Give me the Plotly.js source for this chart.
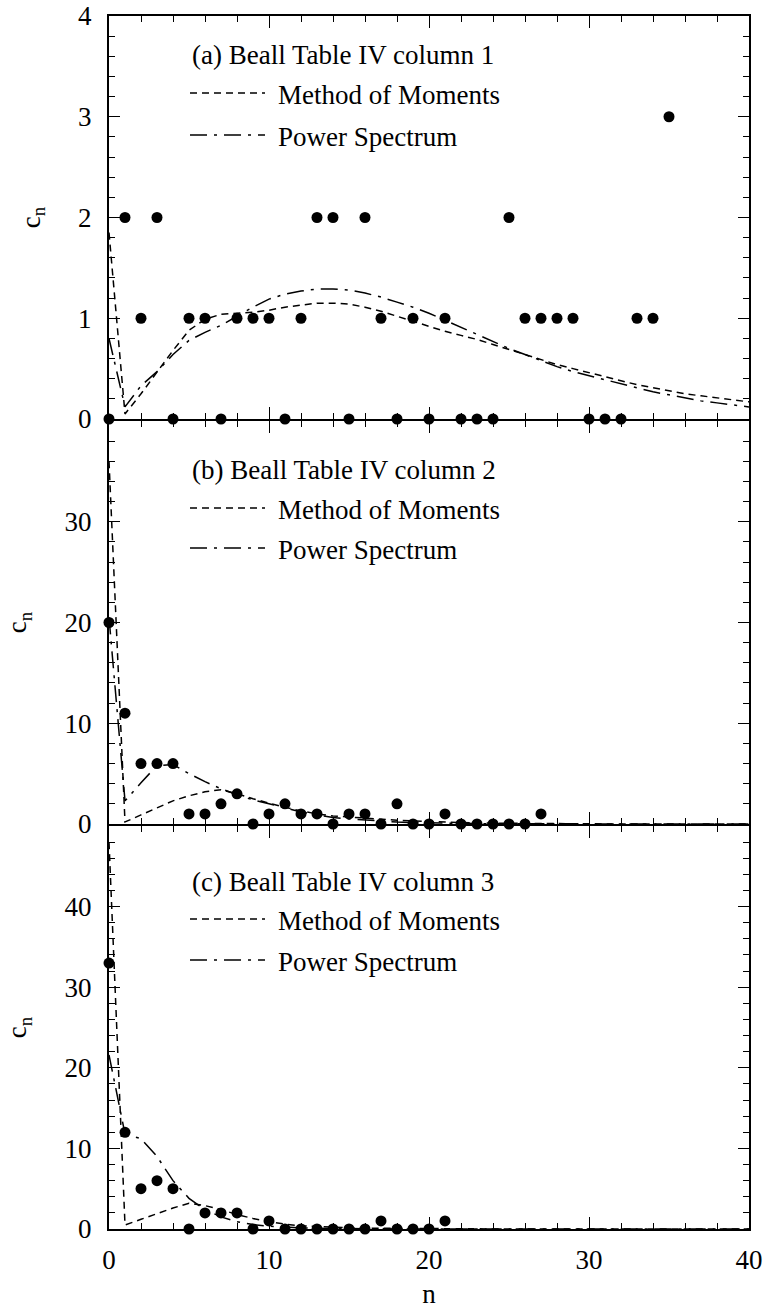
<!DOCTYPE html>
<html>
<head>
<meta charset="utf-8">
<script src="https://cdn.plot.ly/plotly-3.0.1.min.js"></script>
<style>html,body{margin:0;padding:0;background:#fff;}#chart{width:772px;height:1315px;}</style>
</head>
<body>
<div id="chart"></div>
<script>
// ---- data ----
var nCurve = [0,1,2,3,4,5,6,7,8,9,10,11,12,13,14,15,16,17,18,19,20,21,22,23,24,25,26,27,28,29,30,31,32,33,34,35,36,37,38,39,40];

// (a) Beall Table IV column 1
var dotsA_n = [0,1,2,3,4,5,6,7,8,9,10,11,12,13,14,15,16,17,18,19,20,21,22,23,24,25,26,27,28,29,30,31,32,33,34,35];
var dotsA_c = [0,2,1,2,0,1,1,0,1,1,1,0,1,2,2,0,2,1,0,1,0,1,0,0,0,2,1,1,1,1,0,0,0,1,1,3];
var momA = [1.85,0.05,0.25,0.47,0.68,0.88,0.99,1.04,1.05,1.06,1.08,1.11,1.13,1.15,1.15,1.14,1.11,1.07,1.02,0.97,0.92,0.87,0.83,0.79,0.74,0.69,0.64,0.59,0.54,0.50,0.46,0.42,0.38,0.34,0.31,0.28,0.25,0.23,0.21,0.19,0.17];
var psA  = [0.80,0.12,0.33,0.47,0.64,0.78,0.86,0.93,1.02,1.11,1.19,1.24,1.27,1.29,1.29,1.28,1.25,1.21,1.16,1.11,1.05,0.98,0.91,0.84,0.77,0.70,0.64,0.58,0.52,0.47,0.43,0.39,0.35,0.31,0.27,0.24,0.21,0.18,0.16,0.14,0.12];

// (b) Beall Table IV column 2
var dotsB_n = [0,1,2,3,4,5,6,7,8,9,10,11,12,13,14,15,16,17,18,19,20,21,22,23,24,25,26,27];
var dotsB_c = [20,11,6,6,6,1,1,2,3,0,1,2,1,1,0,1,1,0,2,0,0,1,0,0,0,0,0,1];
var momB = [36,0.2,0.9,1.6,2.3,2.8,3.2,3.4,3.0,2.5,2.05,1.65,1.3,1.0,0.8,0.68,0.56,0.46,0.38,0.3,0.24,0.18,0.14,0.1,0.08,0.06,0.05,0.04,0.03,0.02,0.02,0.01,0.01,0.01,0.01,0,0,0,0,0,0];
var psB  = [20.5,2.3,4.1,5.8,5.9,5.0,4.2,3.5,2.9,2.4,2.0,1.6,1.2,0.9,0.65,0.5,0.38,0.28,0.2,0.14,0.1,0.07,0.05,0.04,0.03,0.02,0.02,0.01,0.01,0.01,0,0,0,0,0,0,0,0,0,0,0];

// (c) Beall Table IV column 3
var dotsC_n = [0,1,2,3,4,5,6,7,8,9,10,11,12,13,14,15,16,17,18,19,20,21];
var dotsC_c = [33,12,5,6,5,0,2,2,2,0,1,0,0,0,0,0,0,1,0,0,0,1];
var momC = [48,0.5,1.2,1.9,2.6,3.2,2.9,2.4,1.8,1.3,0.9,0.6,0.4,0.3,0.2,0.15,0.1,0.08,0.06,0.04,0.03,0.02,0.02,0.01,0.01,0.01,0.01,0,0,0,0,0,0,0,0,0,0,0,0,0,0];
var psC  = [21.6,11.8,11.2,9.0,6.0,3.8,2.4,1.5,0.9,0.55,0.35,0.22,0.14,0.09,0.06,0.04,0.03,0.02,0.01,0.01,0,0,0,0,0,0,0,0,0,0,0,0,0,0,0,0,0,0,0,0,0];

var panelTitles = ["(a) Beall Table IV column 1","(b) Beall Table IV column 2","(c) Beall Table IV column 3"];
var momName = "Method of Moments";
var psName = "Power Spectrum";
var yTitle = "c<sub>n</sub>";
var xTitle = "n";
var yTicksA = [0,1,2,3,4];
var yTicksB = [0,10,20,30];
var yTicksC = [0,10,20,30,40];

// ---- styling ----
var FONT = "Liberation Serif, Times New Roman, serif";
var FS = 27;
var MOMDASH = "7px,5px";
var PSDASH = "17px,7px,3px,7px";

var panels = [
  {dn: dotsA_n, dc: dotsA_c, mom: momA, ps: psA, xa: "x3", ya: "y3"},
  {dn: dotsB_n, dc: dotsB_c, mom: momB, ps: psB, xa: "x2", ya: "y2"},
  {dn: dotsC_n, dc: dotsC_c, mom: momC, ps: psC, xa: "x", ya: "y"}
];

var traces = [];
panels.forEach(function(p){
  traces.push({x: nCurve, y: p.mom, xaxis: p.xa, yaxis: p.ya, mode: "lines", name: momName,
    line: {color: "#000", width: 1.5, dash: MOMDASH}, showlegend: false, cliponaxis: true});
  traces.push({x: nCurve, y: p.ps, xaxis: p.xa, yaxis: p.ya, mode: "lines", name: psName,
    line: {color: "#000", width: 1.5, dash: PSDASH}, showlegend: false, cliponaxis: true});
  traces.push({x: p.dn, y: p.dc, xaxis: p.xa, yaxis: p.ya, mode: "markers", name: "data",
    marker: {color: "#000", size: 11, symbol: "circle"}, showlegend: false, cliponaxis: false});
});

function xAxis(anchor, labels){
  var ax = {
    anchor: anchor, domain: [0,1], range: [0,40],
    showline: true, linewidth: 2, linecolor: "#000", mirror: "allticks",
    ticks: "inside", ticklen: 12, tickwidth: 1, tickcolor: "#000",
    tickmode: "linear", tick0: 0, dtick: 10,
    minor: {dtick: 2, tick0: 0, ticklen: 6, tickwidth: 1, tickcolor: "#000", ticks: "inside", showgrid: false},
    showgrid: false, zeroline: false, showticklabels: labels, ticklabelstandoff: 6,
    ticklabeloverflow: "allow",
    tickfont: {family: FONT, size: FS, color: "#000"}
  };
  if (anchor !== "y") ax.matches = "x";
  if (labels) ax.title = {text: xTitle, font: {family: FONT, size: FS, color: "#000"}, standoff: 10};
  return ax;
}
function yAxis(anchor, domain, rng, tv, minorStep){
  return {
    anchor: anchor, domain: domain, range: rng,
    showline: true, linewidth: 2, linecolor: "#000", mirror: "allticks",
    ticks: "inside", ticklen: 11, tickwidth: 1, tickcolor: "#000",
    tickmode: "array", tickvals: tv,
    minor: {dtick: minorStep, tick0: 0, ticklen: 6, tickwidth: 1, tickcolor: "#000", ticks: "inside", showgrid: false},
    showgrid: false, zeroline: false, ticklabelstandoff: 10, ticklabeloverflow: "allow",
    tickfont: {family: FONT, size: FS, color: "#000"},
    title: {text: yTitle, font: {family: FONT, size: FS, color: "#000"}, standoff: 30}
  };
}

// legend placement (pixel positions in the 772x1315 figure)
var L = 109, R = 749, T = 16, B = 1229;
var PH = B - T;               // plot height in px
var GAP = 2;                  // so that adjacent frame lines coincide
var h = (PH - 2 * GAP) / 3;
var domC = [0, h / PH];
var domB = [(h + GAP) / PH, (2 * h + GAP) / PH];
var domA = [(2 * h + 2 * GAP) / PH, 1];

function px(x){ return (x - L) / (R - L); }
function py(y){ return (B - y) / PH; }
var legendPos = [
  {title: 55, mom: 95, ps: 137},
  {title: 470, mom: 510, ps: 550},
  {title: 882, mom: 921, ps: 962}
];
var annotations = [], shapes = [];
legendPos.forEach(function(lp, i){
  annotations.push({xref: "paper", yref: "paper", x: px(190), y: py(lp.title), xanchor: "left", yanchor: "middle",
    text: panelTitles[i], showarrow: false, font: {family: FONT, size: FS, color: "#000"}});
  annotations.push({xref: "paper", yref: "paper", x: px(276), y: py(lp.mom), xanchor: "left", yanchor: "middle",
    text: momName, showarrow: false, font: {family: FONT, size: FS, color: "#000"}});
  annotations.push({xref: "paper", yref: "paper", x: px(276), y: py(lp.ps), xanchor: "left", yanchor: "middle",
    text: psName, showarrow: false, font: {family: FONT, size: FS, color: "#000"}});
  shapes.push({type: "line", xref: "paper", yref: "paper", x0: px(190), x1: px(265), y0: py(lp.mom - 2), y1: py(lp.mom - 2),
    line: {color: "#000", width: 1.5, dash: MOMDASH}});
  shapes.push({type: "line", xref: "paper", yref: "paper", x0: px(190), x1: px(265), y0: py(lp.ps - 2), y1: py(lp.ps - 2),
    line: {color: "#000", width: 1.5, dash: PSDASH}});
});

var layout = {
  width: 772, height: 1315,
  margin: {l: L, r: 772 - R, t: T, b: 1315 - B},
  paper_bgcolor: "#fff", plot_bgcolor: "#fff",
  font: {family: FONT, size: FS, color: "#000"},
  showlegend: false,
  xaxis: xAxis("y", true),
  xaxis2: xAxis("y2", false),
  xaxis3: xAxis("y3", false),
  yaxis: yAxis("x", domC, [0, 50], yTicksC, 2),
  yaxis2: yAxis("x2", domB, [0, 40], yTicksB, 2),
  yaxis3: yAxis("x3", domA, [0, 4], yTicksA, 0.2),
  annotations: annotations,
  shapes: shapes
};

Plotly.newPlot("chart", traces, layout, {staticPlot: true, displayModeBar: false});
</script>
</body>
</html>
